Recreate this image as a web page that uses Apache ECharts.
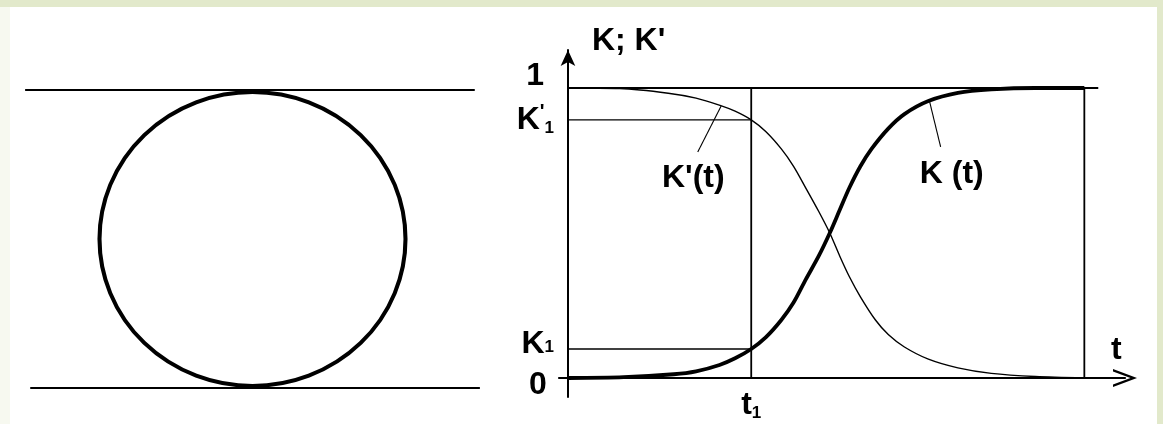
<!DOCTYPE html>
<html>
<head>
<meta charset="utf-8">
<script src="https://cdn.jsdelivr.net/npm/echarts@6/dist/echarts.min.js"></script>
<style>
  html, body { margin: 0; padding: 0; background: #e2e9cb; }
  #wrap { position: relative; width: 1163px; height: 424px; background: #e2e9cb; overflow: hidden; }
  #edge { position: absolute; left: 0; top: 7px; width: 10px; height: 417px; background: #f7f9f0; }
  #paper { position: absolute; left: 10px; top: 7px; width: 1147px; height: 417px; background: #fff; }
  #chart { position: absolute; left: 0; top: 0; width: 1163px; height: 424px; }
</style>
</head>
<body>
<div id="wrap">
  <div id="edge"></div>
  <div id="paper"></div>
  <!-- canvas on top of the white sheet -->
  <div id="chart"></div>
</div>
<script>
// time axis: 0 at the K axis, 10 at the base of the arrow head
const T1 = 3.29;      // t1
const K1 = 0.10;      // K1
const KP1 = 0.89;     // K'1
const T_END = 9.27;   // right vertical line
const T_TOP = 9.52;   // end of the K = 1 line

// K(t), thick curve
const kCurve = [
  [0, 0], [1.0, 0.003], [1.9, 0.013], [2.3, 0.023], [2.72, 0.045], [3.0, 0.068],
  [3.29, 0.10], [3.55, 0.14], [3.83, 0.20], [4.05, 0.26], [4.27, 0.34], [4.5, 0.42],
  [4.70, 0.50], [4.88, 0.58], [5.05, 0.655], [5.25, 0.73], [5.45, 0.79], [5.75, 0.86],
  [6.04, 0.91], [6.47, 0.955], [7.0, 0.983], [7.6, 0.995], [8.39, 1.0], [9.27, 1.0]
];
// K'(t), thin curve
const kpCurve = [
  [0, 1], [0.93, 0.998], [1.8, 0.982], [2.3, 0.965], [2.73, 0.94], [3.0, 0.92],
  [3.29, 0.89], [3.55, 0.85], [3.83, 0.79], [4.05, 0.73], [4.27, 0.655], [4.5, 0.575],
  [4.70, 0.50], [4.88, 0.42], [5.05, 0.35], [5.25, 0.28], [5.52, 0.20], [5.75, 0.15],
  [6.04, 0.107], [6.47, 0.065], [7.0, 0.035], [7.6, 0.016], [8.39, 0.005], [9.27, 0]
];

// leader lines and curve names
const kpLeader = [[2.33, 0.779], [2.75, 0.938]];
const kLeader = [[6.69, 0.797], [6.49, 0.955]];
const curveNames = ["K'(t)", 'K (t)'];
const curveNamePos = [[2.25, 0.69], [6.89, 0.703]];

// tick labels
const yTickValues = [K1, KP1];
const yTickText = ['{kb|K}{sb|1}', "{k|K}{p|'}{s|1}"];
const xTickValues = [T1];
const xTickText = ['{k|t}{s|1}'];
// "0" and "1" sit a little off their levels in the drawing
const endLabels = ['0', '1'];
const endLabelPos = [[-0.54, -0.024], [-0.59, 1.041]];

// left sketch: pipe walls and the ball
const pipeTop = [[1.1, 1], [97.8, 1]];
const pipeBottom = [[2.2, 0], [98.9, 0]];
const ballCenter = [50, 0.5];

const font = 'Liberation Sans, Arial, sans-serif';
const ink = '#000';
const fs = 32;

const rich = {
  k: { fontSize: fs, lineHeight: 34, fontFamily: font, fontWeight: 'bold', color: ink },
  p: { fontSize: 20, lineHeight: 22, verticalAlign: 'top', fontFamily: font, fontWeight: 'bold', color: ink },
  s: { fontSize: 17, lineHeight: 17, verticalAlign: 'bottom', fontFamily: font, color: ink, fontWeight: 'bold' },
  kb: { fontSize: fs, lineHeight: 34, padding: [0, 0, 10, 0], fontFamily: font, fontWeight: 'bold', color: ink },
  sb: { fontSize: 17, lineHeight: 17, padding: [0, 0, 10, 0], verticalAlign: 'bottom', fontFamily: font, color: ink, fontWeight: 'bold' }
};

function segment(data, width, z) {
  return {
    type: 'line', xAxisIndex: 0, yAxisIndex: 0, data: data,
    symbol: 'none', silent: true, z: z || 2,
    lineStyle: { color: ink, width: width }
  };
}

function textMarks(names, pos) {
  return {
    type: 'scatter', silent: true, z: 5, symbolSize: 1, clip: false,
    itemStyle: { color: 'rgba(0,0,0,0)', opacity: 1 },
    data: pos.map(function (p, i) { return { value: p, name: names[i] }; }),
    label: {
      show: true, position: 'inside', formatter: '{b}',
      fontSize: fs, fontFamily: font, fontWeight: 'bold', color: ink
    }
  };
}

const chart = echarts.init(document.getElementById('chart'));

const option = {
  animation: false,
  backgroundColor: 'transparent',
  grid: [
    { left: 559, right: 38, top: 50, bottom: 27, containLabel: false, outerBoundsMode: 'none' },
    { left: 20, top: 90, width: 465, height: 298, containLabel: false, outerBoundsMode: 'none' }
  ],
  xAxis: [
    {
      type: 'value', gridIndex: 0, min: -0.161, max: 10,
      name: 't', nameLocation: 'end', nameGap: -14, nameMoveOverlap: false,
      nameTextStyle: { fontSize: fs, fontFamily: font, fontWeight: 'bold', color: ink, align: 'left', verticalAlign: 'bottom', padding: [0, 0, 12, 0] },
      axisLine: {
        onZero: true,
        lineStyle: { color: ink, width: 2.2 },
        symbol: ['none', 'path://M0,24 L9,0 L18,24 L15.4,24 L9,6.5 L2.6,24 Z'],
        symbolSize: [18, 24]
      },
      axisTick: { show: false },
      splitLine: { show: false },
      axisLabel: {
        customValues: xTickValues, margin: -9, rich: rich,
        formatter: function (v) { return xTickText[xTickValues.indexOf(v)] || ''; }
      }
    },
    { type: 'value', gridIndex: 1, min: 0, max: 100, show: false }
  ],
  yAxis: [
    {
      type: 'value', gridIndex: 0, min: -0.0655, max: 1.131,
      name: "K; K'", nameLocation: 'end', nameGap: 9, nameMoveOverlap: false,
      nameTextStyle: { fontSize: fs, fontFamily: font, fontWeight: 'bold', color: ink, align: 'left', verticalAlign: 'middle', padding: [0, 0, 0, 24] },
      axisLine: {
        onZero: true,
        lineStyle: { color: ink, width: 2 },
        symbol: ['none', 'arrow'],
        symbolSize: [11, 16]
      },
      axisTick: { show: false },
      splitLine: { show: false },
      axisLabel: {
        customValues: yTickValues, margin: 5, rich: rich,
        formatter: function (v) {
          for (let i = 0; i < yTickValues.length; i++) {
            if (Math.abs(yTickValues[i] - v) < 1e-6) return yTickText[i];
          }
          return '';
        }
      }
    },
    { type: 'value', gridIndex: 1, min: 0, max: 1, show: false }
  ],
  series: [
    // left sketch
    { type: 'line', xAxisIndex: 1, yAxisIndex: 1, data: pipeTop, symbol: 'none', silent: true, lineStyle: { color: ink, width: 1.8 } },
    { type: 'line', xAxisIndex: 1, yAxisIndex: 1, data: pipeBottom, symbol: 'none', silent: true, lineStyle: { color: ink, width: 1.8 } },
    {
      type: 'scatter', xAxisIndex: 1, yAxisIndex: 1, data: [ballCenter], silent: true,
      symbol: 'circle', symbolSize: [306, 294],
      itemStyle: { color: 'rgba(0,0,0,0)', borderColor: '#000', borderWidth: 4, opacity: 1 }
    },
    // guide lines
    segment([[0, 1], [T_TOP, 1]], 1.8),
    segment([[0, KP1], [T1, KP1]], 1.4),
    segment([[0, K1], [T1, K1]], 1.4),
    segment([[T1, 0], [T1, 1]], 1.8),
    segment([[T_END, 0], [T_END, 1]], 1.8),
    segment(kpLeader, 1.1),
    segment(kLeader, 1.1),
    // curves
    {
      type: 'line', data: kpCurve, symbol: 'none', silent: true, z: 3,
      smooth: 0.3,
      lineStyle: { color: ink, width: 1.4 }
    },
    {
      type: 'line', data: kCurve, symbol: 'none', silent: true, z: 4,
      smooth: 0.3,
      lineStyle: { color: '#000', width: 3.8 }
    },
    // curve names and the 0 / 1 marks
    textMarks(curveNames, curveNamePos),
    textMarks(endLabels, endLabelPos)
  ]
};

chart.setOption(option);
</script>
</body>
</html>
